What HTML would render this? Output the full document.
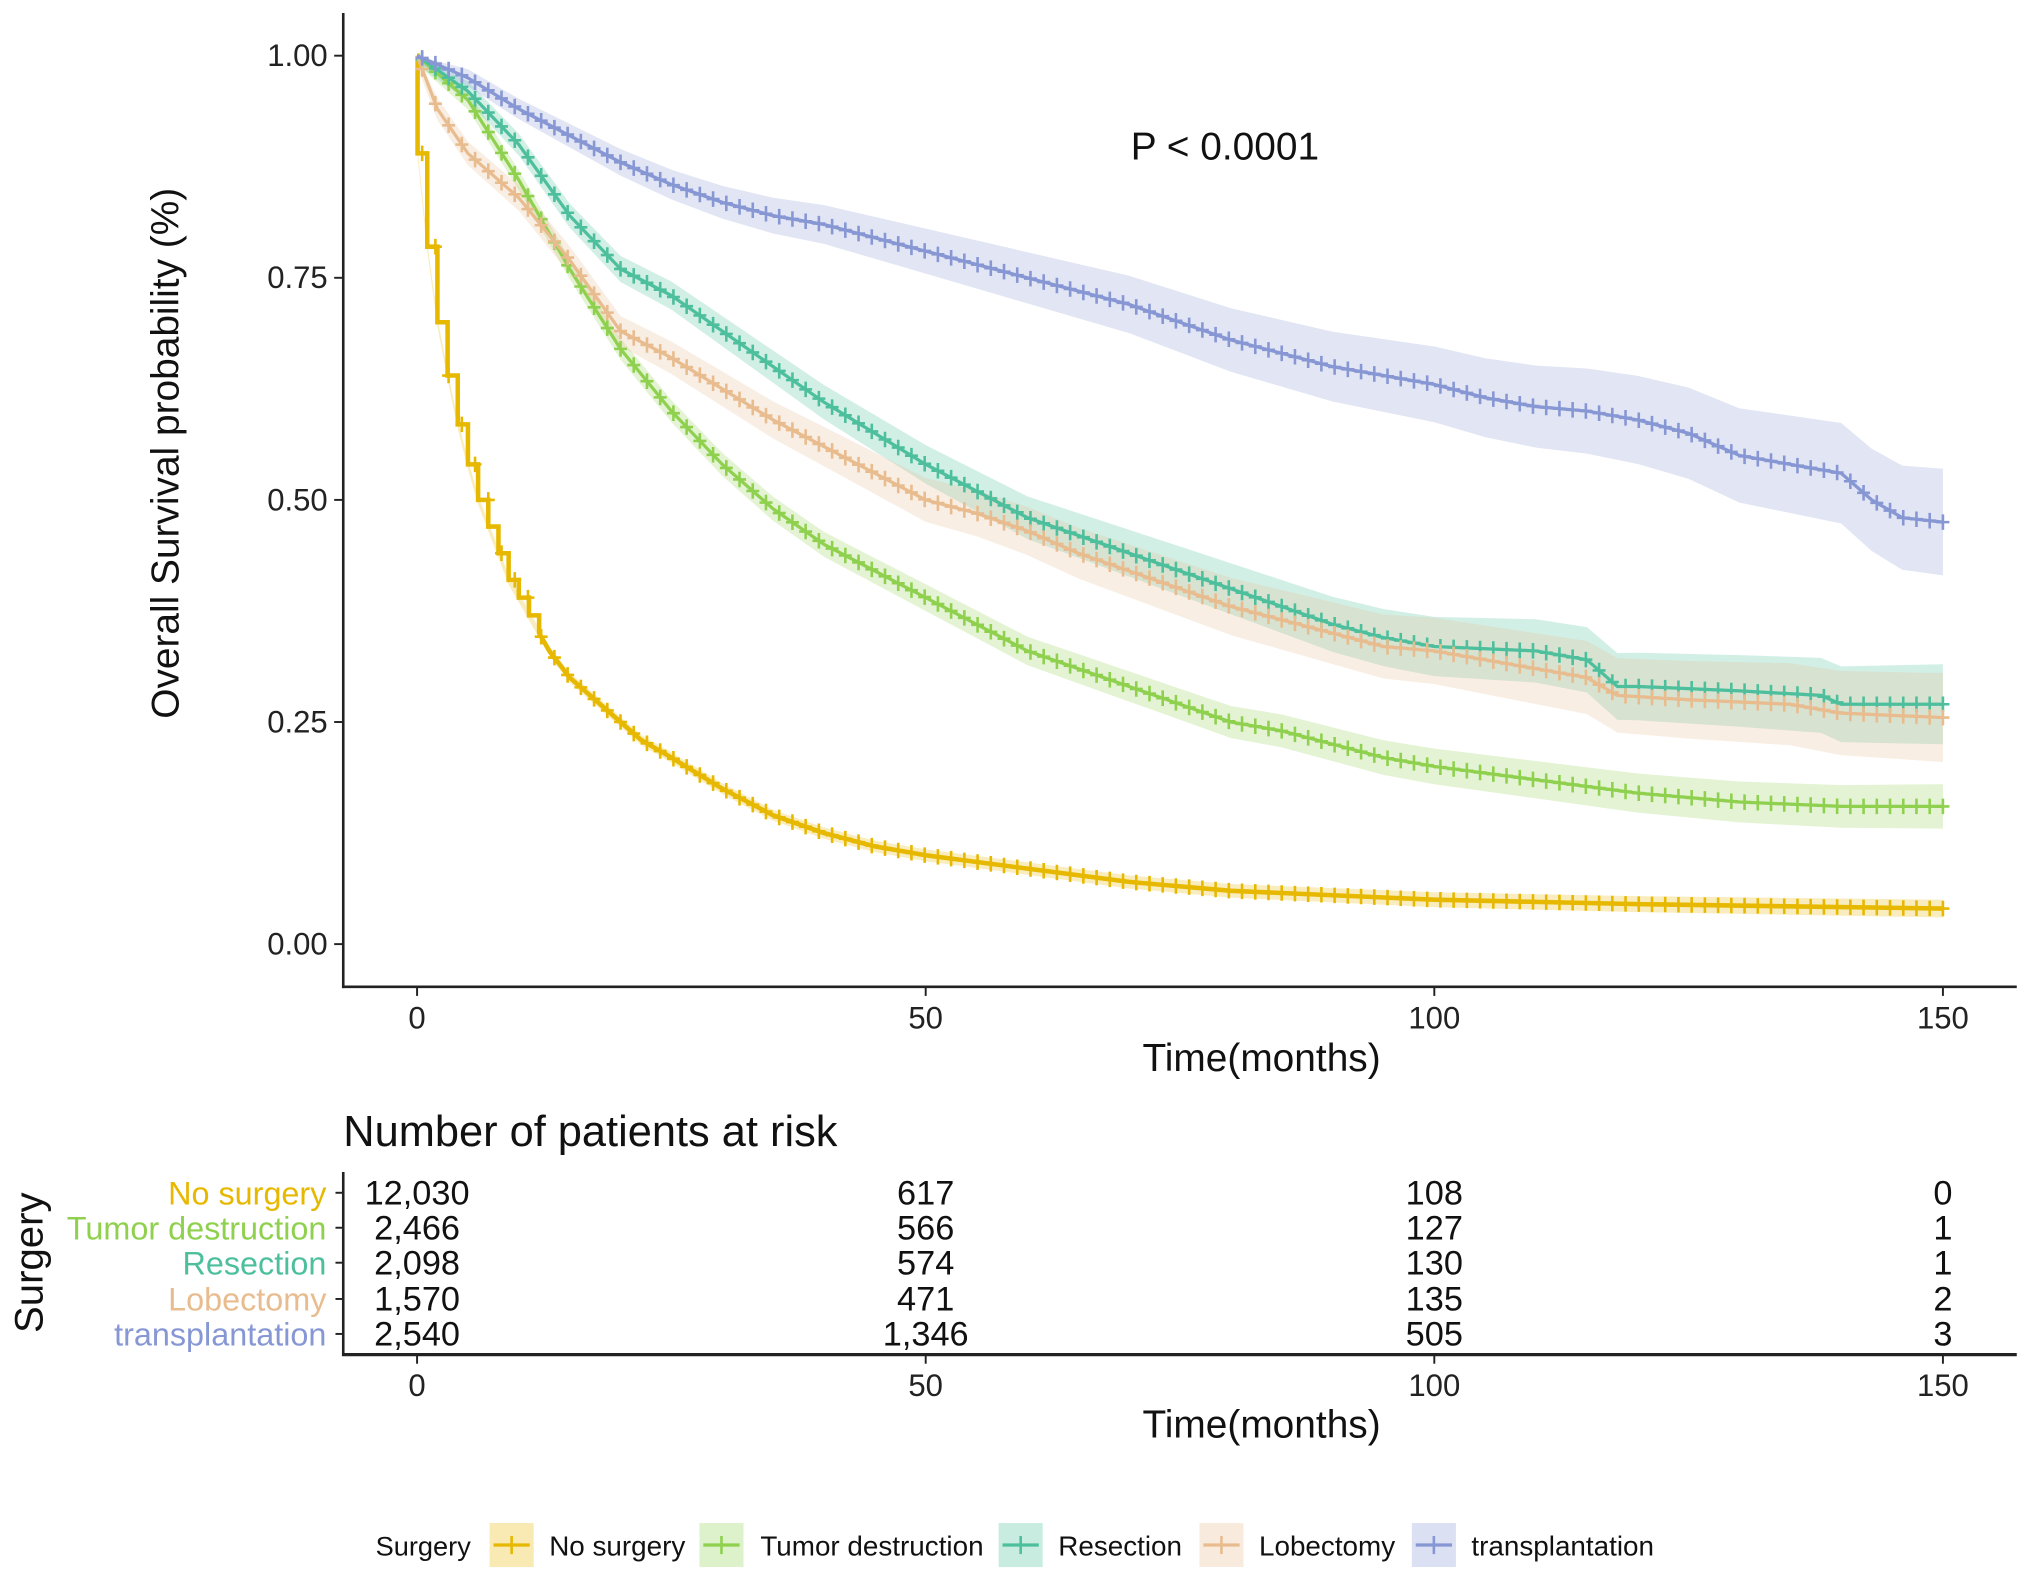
<!DOCTYPE html>
<html><head><meta charset="utf-8"><style>
html,body{margin:0;padding:0;background:#fff;}
svg{display:block;font-family:"Liberation Sans",Arial,sans-serif;}
</style></head><body>
<svg id="chart" width="2031" height="1580" viewBox="0 0 1568 1220" preserveAspectRatio="none" xmlns="http://www.w3.org/2000/svg">
<g id="bands"></g>
<g id="curves"></g>
<g id="axes"></g>
</svg>
<script>
const seriesNames = ["No surgery","Tumor destruction","Resection","Lobectomy","transplantation"];
const seriesColors = ["#E7B800","#8FD14F","#4DBF9C","#E8BC8E","#8797D4"];
const tNo = [0,0.05,1,2,3,4,5,6,7,8,9,10,11,12,13,14,15,16,18,20,22,25,30,35,40,45,50,60,70,80,90,100,120,150];
const sNo = [1,0.89,0.785,0.70,0.64,0.585,0.54,0.50,0.47,0.44,0.41,0.39,0.37,0.35,0.33,0.315,0.30,0.29,0.27,0.25,0.23,0.21,0.175,0.145,0.125,0.11,0.10,0.085,0.07,0.06,0.055,0.05,0.045,0.04];
const tTd = [0,5,10,15,20,25,30,35,40,45,50,55,60,65,70,75,80,85,90,95,100,110,120,130,140,150];
const sTd = [1,0.95,0.86,0.76,0.67,0.60,0.54,0.49,0.45,0.42,0.39,0.36,0.33,0.31,0.29,0.27,0.25,0.24,0.225,0.21,0.20,0.185,0.17,0.16,0.155,0.155];
const tRe = [0,5,10,15,20,25,30,35,40,45,50,55,60,65,70,75,80,85,90,95,100,110,115,118,120,130,138,140,150];
const sRe = [1,0.96,0.90,0.82,0.76,0.73,0.69,0.65,0.61,0.575,0.54,0.51,0.48,0.46,0.44,0.42,0.40,0.38,0.36,0.345,0.335,0.33,0.32,0.29,0.29,0.285,0.28,0.27,0.27];
const tLo = [0,2,5,10,15,20,25,30,35,40,45,50,55,60,65,70,75,80,85,90,95,100,110,115,118,125,135,140,150];
const sLo = [1,0.94,0.89,0.84,0.77,0.69,0.66,0.625,0.59,0.56,0.53,0.50,0.485,0.465,0.44,0.42,0.40,0.38,0.365,0.35,0.335,0.33,0.31,0.30,0.28,0.275,0.27,0.26,0.255];
const tTr = [0,5,10,15,20,25,30,35,40,45,50,55,60,65,70,75,80,85,90,95,100,105,110,115,120,125,130,135,140,143,146,150];
const sTr = [1,0.975,0.94,0.91,0.88,0.855,0.835,0.82,0.81,0.795,0.78,0.765,0.75,0.735,0.72,0.70,0.68,0.665,0.65,0.64,0.63,0.615,0.605,0.60,0.59,0.575,0.55,0.54,0.53,0.50,0.48,0.475];
const bandStart = [0.005,0.01,0.01,0.012,0.008];
const bandEnd = [0.01,0.025,0.045,0.05,0.06];
const xTicks = [0,50,100,150];
const yTicks = [0,0.25,0.5,0.75,1];
const yTickLabels = ["0.00","0.25","0.50","0.75","1.00"];
const riskNo = ["12,030","617","108","0"];
const riskTd = ["2,466","566","127","1"];
const riskRe = ["2,098","574","130","1"];
const riskLo = ["1,570","471","135","2"];
const riskTr = ["2,540","1,346","505","3"];

const times=[tNo,tTd,tRe,tLo,tTr], surv=[sNo,sTd,sRe,sLo,sTr], risk=[riskNo,riskTd,riskRe,riskLo,riskTr];
const NS="http://www.w3.org/2000/svg";
const X=t=>322+(t/150)*(1500-322);
const Y=v=>729-v*686;
function el(tag,attrs,parent,text){const e=document.createElementNS(NS,tag);for(const k in attrs)e.setAttribute(k,attrs[k]);if(text!==undefined)e.textContent=text;parent.appendChild(e);return e;}
const bandsG=document.getElementById('bands'),curvesG=document.getElementById('curves'),axG=document.getElementById('axes');
function valAt(ts,ss,t,step){for(let i=1;i<ts.length;i++){if(t<=ts[i]){if(step)return ss[i-1];const f=(t-ts[i-1])/(ts[i]-ts[i-1]);return ss[i-1]+f*(ss[i]-ss[i-1]);}}return ss[ss.length-1];}
for(let k=0;k<5;k++){
  const ts=times[k],ss=surv[k],c=seriesColors[k];
  let up=[],lo=[];
  for(let i=0;i<ts.length;i++){const hw=bandStart[k]+(bandEnd[k]-bandStart[k])*ts[i]/150;up.push(X(ts[i])+","+Y(Math.min(1,ss[i]+hw)));lo.unshift(X(ts[i])+","+Y(Math.max(0,ss[i]-hw)));}
  const b=el('polygon',{points:up.concat(lo).join(' '),fill:c,'fill-opacity':0.25,stroke:'none'},bandsG);
  
  
  let d="M"+X(ts[0])+","+Y(ss[0]);
  for(let i=1;i<ts.length;i++){ if(k===0&&ts[i]<=12){d+=" H"+X(ts[i])+" V"+Y(ss[i]);} else d+=" L"+X(ts[i])+","+Y(ss[i]); }
  const p=el('path',{d:d,fill:'none',stroke:c,'stroke-width':k===0?3.5:2.5},curvesG);
  
  
  let md="";
  for(let t=0.5;t<=150;t+=1.3){const x=X(t),y=Y(valAt(ts,ss,t,k===0&&t<12));md+=`M${x-5},${y}h10M${x},${y-6}v12`;}
  const m=el('path',{d:md,stroke:c,'stroke-width':2,fill:'none'},curvesG);
  
  
}
el('line',{x1:265,y1:10,x2:265,y2:763,stroke:'#222','stroke-width':2},axG);
el('line',{x1:264,y1:762,x2:1557,y2:762,stroke:'#222','stroke-width':2},axG);
yTicks.forEach((v,i)=>{el('line',{x1:258,y1:Y(v),x2:265,y2:Y(v),stroke:'#222','stroke-width':1.5},axG);
  const t=el('text',{x:253,y:Y(v)+8,'text-anchor':'end','font-size':24,fill:'#222'},axG,yTickLabels[i]);
  });
xTicks.forEach(v=>{el('line',{x1:X(v),y1:762,x2:X(v),y2:769,stroke:'#222','stroke-width':1.5},axG);
  const t=el('text',{x:X(v),y:794,'text-anchor':'middle','font-size':24,fill:'#222'},axG,String(v));
  
  el('line',{x1:X(v),y1:1046,x2:X(v),y2:1053,stroke:'#222','stroke-width':1.5},axG);
  const t2=el('text',{x:X(v),y:1078,'text-anchor':'middle','font-size':24,fill:'#222'},axG,String(v));
  });
let tt=el('text',{x:0,y:0,transform:'translate(138,350) rotate(-90)','text-anchor':'middle','font-size':30,fill:'#111'},axG,'Overall Survival probability (%)');

tt=el('text',{x:974,y:827,'text-anchor':'middle','font-size':30,fill:'#111'},axG,'Time(months)');

tt=el('text',{x:873,y:123,'font-size':30,fill:'#111'},axG,'P < 0.0001');

tt=el('text',{x:265,y:885,'font-size':33.5,fill:'#111'},axG,'Number of patients at risk');

el('line',{x1:265,y1:905,x2:265,y2:1047,stroke:'#222','stroke-width':2},axG);
el('line',{x1:264,y1:1046,x2:1557,y2:1046,stroke:'#222','stroke-width':2.5},axG);
const rowY=[921,948,975,1003,1030];
for(let k=0;k<5;k++){
  el('line',{x1:259,y1:rowY[k],x2:265,y2:rowY[k],stroke:'#222','stroke-width':1.5},axG);
  const l=el('text',{x:252,y:rowY[k]+9,'text-anchor':'end','font-size':25,fill:seriesColors[k]},axG,seriesNames[k]);
  
  xTicks.forEach((v,j)=>{const n=el('text',{x:X(v),y:rowY[k]+9,'text-anchor':'middle','font-size':26.5,fill:'#111'},axG,risk[k][j]);
    });
}
tt=el('text',{x:0,y:0,transform:'translate(33,975) rotate(-90)','text-anchor':'middle','font-size':31,fill:'#111'},axG,'Surgery');

tt=el('text',{x:974,y:1110,'text-anchor':'middle','font-size':30,fill:'#111'},axG,'Time(months)');

tt=el('text',{x:290,y:1201,'font-size':21,fill:'#111'},axG,'Surgery');

const keyX=[378,540,771,926,1090],labX=[424,587,817,972,1136];
for(let k=0;k<5;k++){
  const g=el('g',{},axG);
  
  
  el('rect',{x:keyX[k],y:1176,width:34,height:34,fill:seriesColors[k],'fill-opacity':0.3},g);
  el('line',{x1:keyX[k]+3,y1:1193,x2:keyX[k]+31,y2:1193,stroke:seriesColors[k],'stroke-width':2.5},g);
  el('line',{x1:keyX[k]+17,y1:1186,x2:keyX[k]+17,y2:1200,stroke:seriesColors[k],'stroke-width':2},g);
  el('text',{x:labX[k],y:1201,'font-size':21.5,fill:'#111'},g,seriesNames[k]);
}
</script>
</body></html>
